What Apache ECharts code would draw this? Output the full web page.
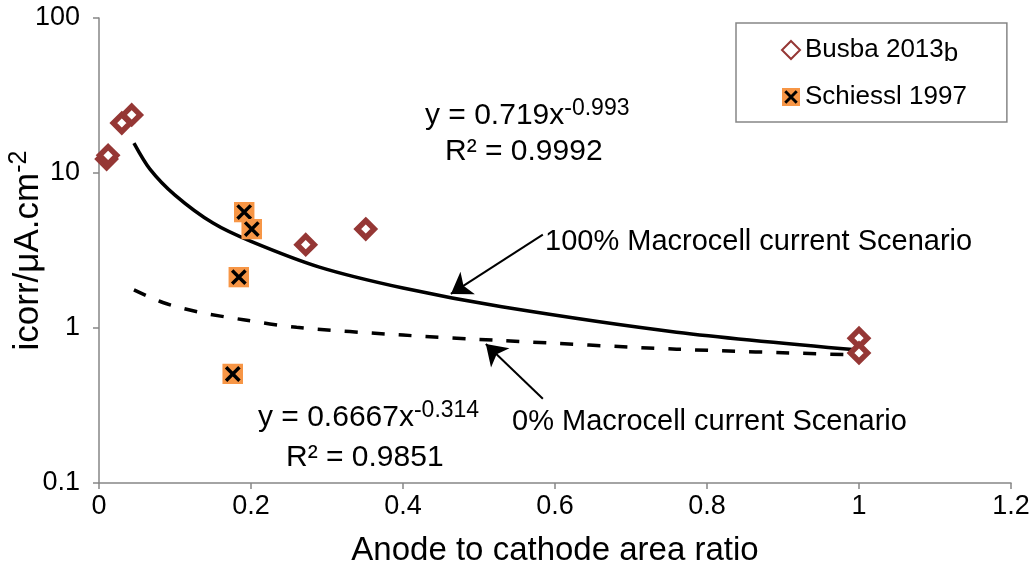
<!DOCTYPE html>
<html>
<head>
<meta charset="utf-8">
<script src="https://cdn.jsdelivr.net/npm/echarts@6/dist/echarts.min.js"></script>
<style>
html,body{margin:0;padding:0;background:#fff;}
#chart{width:1034px;height:574px;}
</style>
</head>
<body>
<div id="chart"></div>
<script>
// ---- data ----
const busbaX = [0.010, 0.012, 0.030, 0.043, 0.272, 0.351, 1.0, 1.0];
const busbaY = [12.3, 13.0, 21.0, 23.7, 3.45, 4.35, 0.86, 0.69];
const schiesslX = [0.191, 0.201, 0.184, 0.176];
const schiesslY = [5.6, 4.35, 2.13, 0.505];
// power trendlines, points
const trend100X = [0.046, 0.067, 0.1, 0.15, 0.2, 0.29, 0.4, 0.53, 0.76, 1.0];
const trend100Y = [15.6, 10.6, 7.2, 4.75, 3.62, 2.47, 1.81, 1.37, 0.94, 0.72];
const trend0X = [0.046, 0.084, 0.13, 0.19, 0.26, 0.4, 0.53, 0.76, 1.0];
const trend0Y = [1.76, 1.46, 1.27, 1.13, 1.01, 0.90, 0.83, 0.73, 0.67];
const xTicks = [0, 0.2, 0.4, 0.6, 0.8, 1, 1.2];
const yTicks = [0.1, 1, 10, 100];
// annotation arrows (data coords): [tail, tip]
const arrow100 = [[0.584, 4.0], [0.463, 1.66]];
const arrow0 = [[0.584, 0.35], [0.509, 0.789]];

const FONT = 'Liberation Sans, Arial, sans-serif';
const pair = (xs, ys) => xs.map((x, i) => [x, ys[i]]);

const svgX = "<svg xmlns='http://www.w3.org/2000/svg' width='22' height='22'><rect x='0' y='0' width='22' height='22' fill='#F79646'/><path d='M4,4L18,18M18,4L4,18' stroke='#000' stroke-width='3.6' fill='none'/></svg>";
const schiesslSymbol = 'image://data:image/svg+xml;charset=utf-8,' + encodeURIComponent(svgX);

const chart = echarts.init(document.getElementById('chart'), null, {renderer: 'canvas'});
const fmt = v => String(parseFloat(Number(v).toPrecision(6)));
const supRich = {font: '23px ' + FONT, fill: '#000', verticalAlign: 'bottom', padding: [0, 0, 15, 0]};

const option = {
  animation: false,
  backgroundColor: '#fff',
  grid: {left: 99, right: 23, top: 18, bottom: 91, containLabel: false, outerBoundsMode: 'none'},
  xAxis: {
    type: 'value', min: 0, max: 1.2, interval: 0.2,
    name: 'Anode to cathode area ratio', nameLocation: 'middle', nameGap: 51, nameMoveOverlap: false,
    nameTextStyle: {fontFamily: FONT, fontSize: 33, color: '#000'},
    axisLine: {lineStyle: {color: '#868686', width: 1.5}},
    axisTick: {show: true, inside: false, length: 6, lineStyle: {color: '#868686', width: 1.5}},
    axisLabel: {fontFamily: FONT, fontSize: 27, color: '#000', margin: 10,
      formatter: v => xTicks.some(t => Math.abs(t - v) < 1e-9) ? fmt(v) : ''},
    splitLine: {show: false}
  },
  yAxis: {
    type: 'log', logBase: 10, min: 0.1, max: 100,
    name: 'icorr/μA.cm{sup|-2}', nameLocation: 'middle', nameGap: 50, nameRotate: 90, nameMoveOverlap: false,
    nameTextStyle: {fontFamily: FONT, fontSize: 35, color: '#000',
      rich: {sup: {fontFamily: FONT, fontSize: 25, color: '#000', verticalAlign: 'bottom', padding: [0, 0, 17, 0]}}},
    axisLine: {show: true, lineStyle: {color: '#868686', width: 1.5}},
    axisTick: {show: true, inside: false, length: 6, lineStyle: {color: '#868686', width: 1.5}},
    minorTick: {show: false},
    axisLabel: {fontFamily: FONT, fontSize: 27, color: '#000', margin: 19,
      formatter: v => yTicks.some(t => Math.abs(t - v) / t < 1e-6) ? fmt(v) : ''},
    splitLine: {show: false}
  },
  legend: {
    orient: 'vertical', left: 736, top: 23,
    data: ['Busba 2013b', 'Schiessl 1997'],
    itemWidth: 18, itemHeight: 18, itemGap: 17,
    padding: [14, 40, 12, 45],
    borderColor: '#868686', borderWidth: 1.5,
    textStyle: {fontFamily: FONT, fontSize: 26, color: '#000',
      rich: {b: {fontFamily: FONT, fontSize: 26, color: '#000', verticalAlign: 'top', padding: [8, 0, 0, 0]}}},
    formatter: n => n === 'Busba 2013b' ? 'Busba 2013{b|b}' : n
  },
  graphic: [
    {type: 'text', x: 425, y: 116, style: {
      text: 'y = 0.719x{sup|-0.993}', font: '30px ' + FONT, fill: '#000', verticalAlign: 'middle',
      rich: {sup: supRich}}},
    {type: 'text', x: 445, y: 152, style: {
      text: 'R² = 0.9992', font: '30px ' + FONT, fill: '#000', verticalAlign: 'middle'}},
    {type: 'text', x: 545, y: 242, style: {
      text: '100% Macrocell current Scenario', font: '29px ' + FONT, fill: '#000', verticalAlign: 'middle'}},
    {type: 'text', x: 512, y: 422, style: {
      text: '0% Macrocell current Scenario', font: '29px ' + FONT, fill: '#000', verticalAlign: 'middle'}},
    {type: 'text', x: 258, y: 418, style: {
      text: 'y = 0.6667x{sup|-0.314}', font: '30px ' + FONT, fill: '#000', verticalAlign: 'middle',
      rich: {sup: supRich}}},
    {type: 'text', x: 286, y: 458, style: {
      text: 'R² = 0.9851', font: '30px ' + FONT, fill: '#000', verticalAlign: 'middle'}}
  ],
  series: [
    {
      name: 'trend100', type: 'line', smooth: 0.3, showSymbol: false, symbol: 'none',
      data: pair(trend100X, trend100Y), z: 2,
      lineStyle: {color: '#000', width: 3.5},
      markLine: {
        silent: true, symbol: ['none', 'arrow'], symbolSize: 20,
        lineStyle: {color: '#000', width: 2, type: 'solid'}, label: {show: false},
        data: [
          [{coord: arrow100[0]}, {coord: arrow100[1]}],
          [{coord: arrow0[0]}, {coord: arrow0[1]}]
        ]
      }
    },
    {
      name: 'trend0', type: 'line', smooth: 0.3, showSymbol: false, symbol: 'none',
      data: pair(trend0X, trend0Y), z: 2,
      lineStyle: {color: '#000', width: 3.5, type: [13, 14]}
    },
    {
      name: 'Busba 2013b', type: 'scatter', symbol: 'diamond', symbolSize: 17, z: 5,
      data: pair(busbaX, busbaY),
      itemStyle: {color: '#fff', borderColor: '#953735', borderWidth: 5.5, opacity: 1}
    },
    {
      name: 'Schiessl 1997', type: 'scatter', symbol: schiesslSymbol, symbolSize: 21, z: 5,
      data: pair(schiesslX, schiesslY),
      itemStyle: {color: '#F79646', opacity: 1}
    }
  ]
};
chart.setOption(option);
</script>
</body>
</html>
